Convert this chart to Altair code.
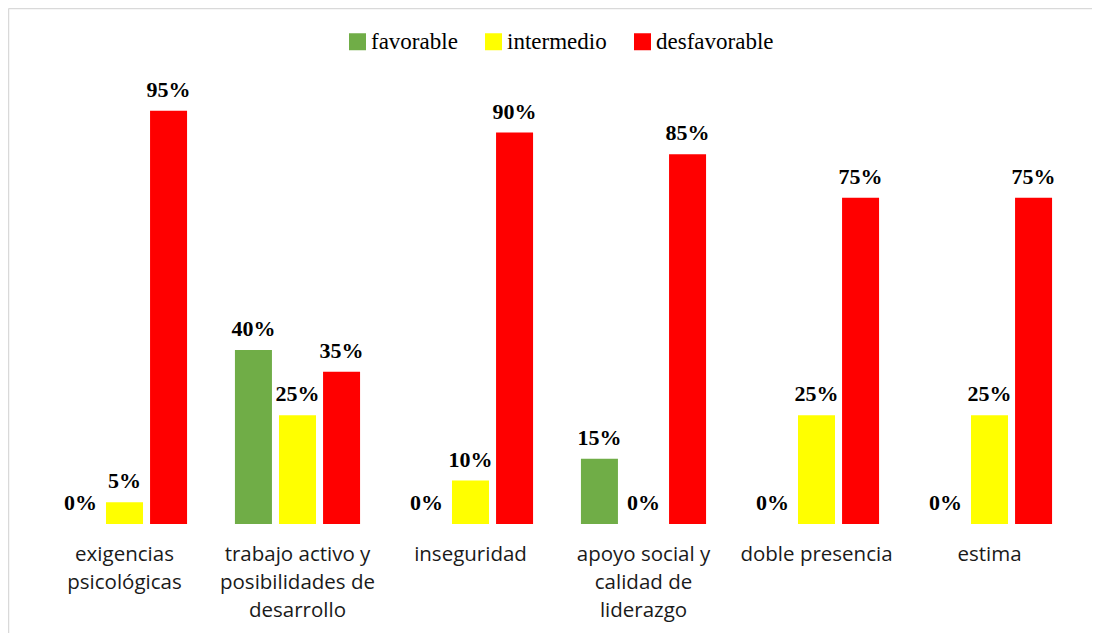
import altair as alt
import pandas as pd

categories = [
    "exigencias|psicológicas",
    "trabajo activo y|posibilidades de|desarrollo",
    "inseguridad",
    "apoyo social y|calidad de|liderazgo",
    "doble presencia",
    "estima",
]
series = ["favorable", "intermedio", "desfavorable"]
favorable = [0.00, 0.40, 0.00, 0.15, 0.00, 0.00]
intermedio = [0.05, 0.25, 0.10, 0.00, 0.25, 0.25]
desfavorable = [0.95, 0.35, 0.90, 0.85, 0.75, 0.75]
colors = ["#70AD47", "#FFFF00", "#FF0000"]

SERIF = "'Liberation Serif', 'Times New Roman', Times, serif"

rows = []
for i, c in enumerate(categories):
    for s, vals in zip(series, [favorable, intermedio, desfavorable]):
        rows.append({"cat": c, "serie": s, "valor": vals[i]})
df = pd.DataFrame(rows)

x_enc = alt.X(
    "cat:N",
    sort=categories,
    title=None,
    scale=alt.Scale(paddingInner=0.236, paddingOuter=0.118),
    axis=alt.Axis(
        labelExpr="split(datum.label, '|')",
        labelAngle=0,
        labelFont="Open Sans",
        labelFontSize=20.5,
        labelColor="#1a1a1a",
        labelLineHeight=28,
        labelPadding=20,
        labelBaseline="top",
        domain=False,
        ticks=False,
        labelLimit=300,
    ),
)
xoff = alt.XOffset(
    "serie:N", sort=series,
    scale=alt.Scale(paddingInner=0.16, paddingOuter=0.08),
)
y_enc = alt.Y("valor:Q", scale=alt.Scale(domain=[0, 1]), axis=None)

base = alt.Chart(df)

bars = base.mark_bar().encode(
    x=x_enc,
    xOffset=xoff,
    y=y_enc,
    color=alt.Color(
        "serie:N",
        sort=series,
        scale=alt.Scale(domain=series, range=colors),
        legend=alt.Legend(
            title=None,
            orient="none",
            direction="horizontal",
            legendX=308,
            legendY=-59,
            symbolType="square",
            symbolSize=289,
            symbolStrokeWidth=0,
            labelFont=SERIF,
            labelFontSize=23,
            labelColor="#000000",
            labelOffset=2,
            columnPadding=24,
        ),
    ),
)

labels = base.mark_text(
    font=SERIF,
    fontSize=22,
    fontWeight="bold",
    color="#000000",
    baseline="alphabetic",
    dy=-14,
).encode(
    x=x_enc,
    xOffset=xoff,
    y=y_enc,
    text=alt.Text("valor:Q", format=".0%"),
)

border_df = pd.DataFrame({"k": [0]})
left_border = alt.Chart(border_df).mark_rule(color="#d9d9d9", strokeWidth=1.5).encode(
    x=alt.value(-29.5), y=alt.value(-80.5), y2=alt.value(560)
)
top_border = alt.Chart(border_df).mark_rule(color="#d9d9d9", strokeWidth=1.5).encode(
    x=alt.value(-29.5), x2=alt.value(1060), y=alt.value(-80.5)
)

chart = alt.layer(bars, labels, left_border, top_border).properties(
    width=1038,
    height=435,
    background="white",
    autosize=alt.AutoSizeParams(type="none"),
    padding={"left": 30, "top": 81, "right": 16, "bottom": 109},
).configure_view(stroke=None, strokeWidth=0)

chart.save("out.html", embed_options={"renderer": "svg", "actions": False})
